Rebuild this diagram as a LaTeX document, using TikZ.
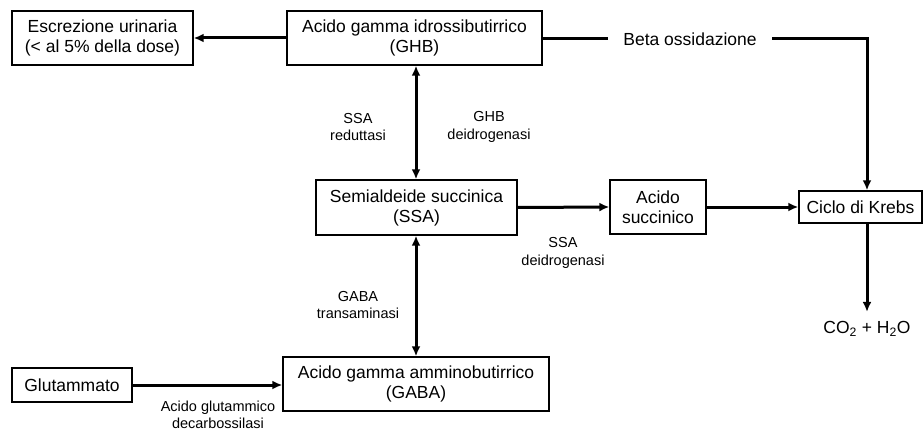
\documentclass[tikz,border=0pt]{standalone}
\usepackage{fontspec}
\setmainfont{Liberation Sans}
\usetikzlibrary{arrows.meta,calc,positioning}

\begin{document}
\begin{tikzpicture}[x=1pt,y=-1pt,
  box/.style={draw,line width=1.4pt,align=center,inner sep=0pt,font=\fontsize{17.5}{20}\selectfont},
  lbl/.style={align=center,inner sep=0pt,font=\fontsize{14.5}{17.5}\selectfont},
  arr/.style={line width=3pt,-{Latex[length=10pt,width=9pt]}},
  darr/.style={line width=3pt,{Latex[length=10pt,width=9pt]}-{Latex[length=10pt,width=9pt]}}]
\useasboundingbox (0,0) rectangle (924,433);

\node[box,minimum width=181pt,minimum height=54pt] (esc) at (102.5,38) {Escrezione urinaria\\(< al 5\% della dose)};
\node[box,minimum width=255pt,minimum height=54pt] (ghb) at (414.5,38) {Acido gamma idrossibutirrico\\(GHB)};
\node[box,minimum width=201pt,minimum height=55pt] (ssa) at (416.5,207.5) {Semialdeide succinica\\(SSA)};
\node[box,minimum width=96pt,minimum height=54pt] (succ) at (658,207) {Acido\\succinico};
\node[box,minimum width=123pt,minimum height=32pt] (krebs) at (860.5,207) {Ciclo di Krebs};
\node[box,minimum width=266pt,minimum height=54pt] (gaba) at (416,384) {Acido gamma amminobutirrico\\(GABA)};
\node[box,minimum width=120pt,minimum height=34pt] (glu) at (72,385) {Glutammato};

\node[box,draw=none,inner xsep=15pt] (beta) at (690,39) {Beta ossidazione};
\node[box,draw=none] (co2) at (867,329) {CO\textsubscript{2} + H\textsubscript{2}O};
\coordinate (turn) at (867,39);

\node[lbl] (red) at (358,127) {SSA\\reduttasi};
\node[lbl] (deid) at (489,127) {GHB\\deidrogenasi};
\node[lbl] (ssadeid) at (563,253) {SSA\\deidrogenasi};
\node[lbl] (trans) at (358,305) {GABA\\transaminasi};
\node[lbl] (decarb) at (218,415) {Acido glutammico\\decarbossilasi};

% frecce
\draw[arr] (ghb.west) -- (esc.east);
\draw[line width=3pt] (ghb.east |- beta) -- (beta.west);
\draw[arr] (beta.east) -- (turn) -- (turn |- krebs.north);
\draw[darr] (ssa.north -| 416,0) -- (ghb.south -| 416,0);
\draw[darr] (ssa.south -| 416,0) -- (gaba.north -| 416,0);
\draw[arr] (ssa.east) -- (succ.west);
\draw[arr] (succ.east) -- (krebs.west);
\draw[arr,shorten >=9pt] (turn |- krebs.south) -- (co2.north);
\draw[arr] (glu.east) -- (gaba.west |- glu.east);

\end{tikzpicture}
\end{document}
